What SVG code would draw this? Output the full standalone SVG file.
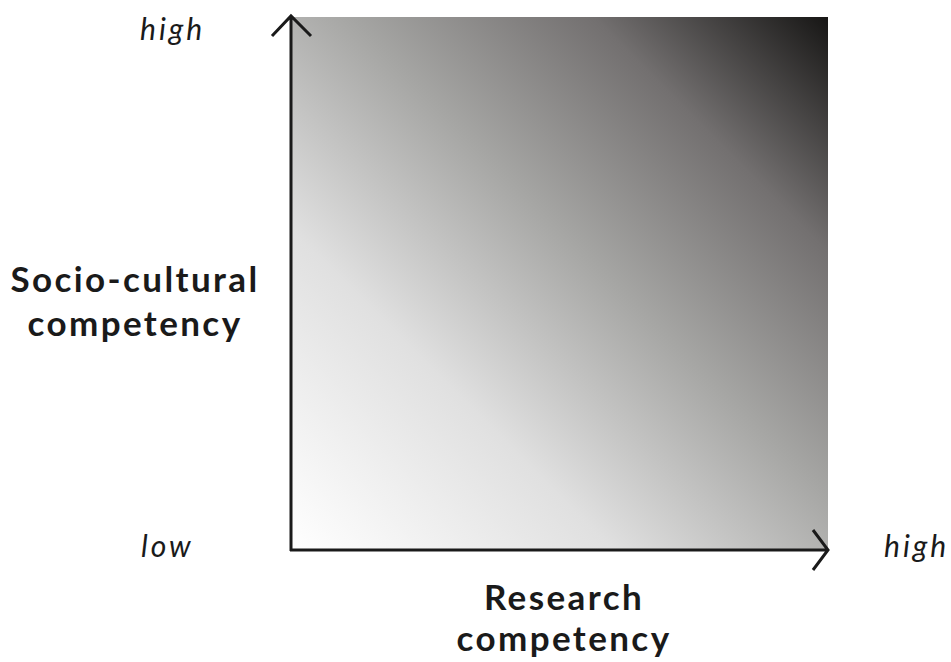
<svg xmlns="http://www.w3.org/2000/svg" width="951" height="662" viewBox="0 0 951 662">
<style>
.lbl{font-family:Lato,"Noto Sans",sans-serif;font-weight:bold;font-size:35px;letter-spacing:2.4px;fill:#1a1a1a;text-anchor:middle}
.tick{font-family:Lato,"Noto Sans",sans-serif;font-style:italic;font-size:30px;letter-spacing:3px;fill:#1a1a1a}
.ax{stroke:#1a1a1a;stroke-width:3;fill:none}
</style>
<defs>
<linearGradient id="g" x1="0" y1="1" x2="1" y2="0">
<stop offset="0" stop-color="#ffffff"/>
<stop offset="0.3" stop-color="#e0e0e0"/>
<stop offset="0.55" stop-color="#a6a6a4"/>
<stop offset="0.78" stop-color="#737070"/>
<stop offset="1" stop-color="#171615"/>
</linearGradient>
</defs>
<g id="field"><rect x="292" y="17" width="536" height="533" fill="url(#g)"/></g>
<g id="axes">
<path class="ax" d="M291 551 V16 M272 36 L291 16 L311 36"/>
<path class="ax" d="M290 550 H828 M813 530 L828 550 L813 570"/>
</g>
<g id="y-label"><text class="lbl" x="135" y="292">Socio-cultural</text><text class="lbl" x="135" y="336">competency</text></g>
<g id="x-label"><text class="lbl" x="564" y="610">Research</text><text class="lbl" x="564" y="651">competency</text></g>
<g id="ticks">
<text class="tick" x="140" y="40">high</text>
<text class="tick" x="141" y="557">low</text>
<text class="tick" x="884" y="557">high</text>
</g>
</svg>
